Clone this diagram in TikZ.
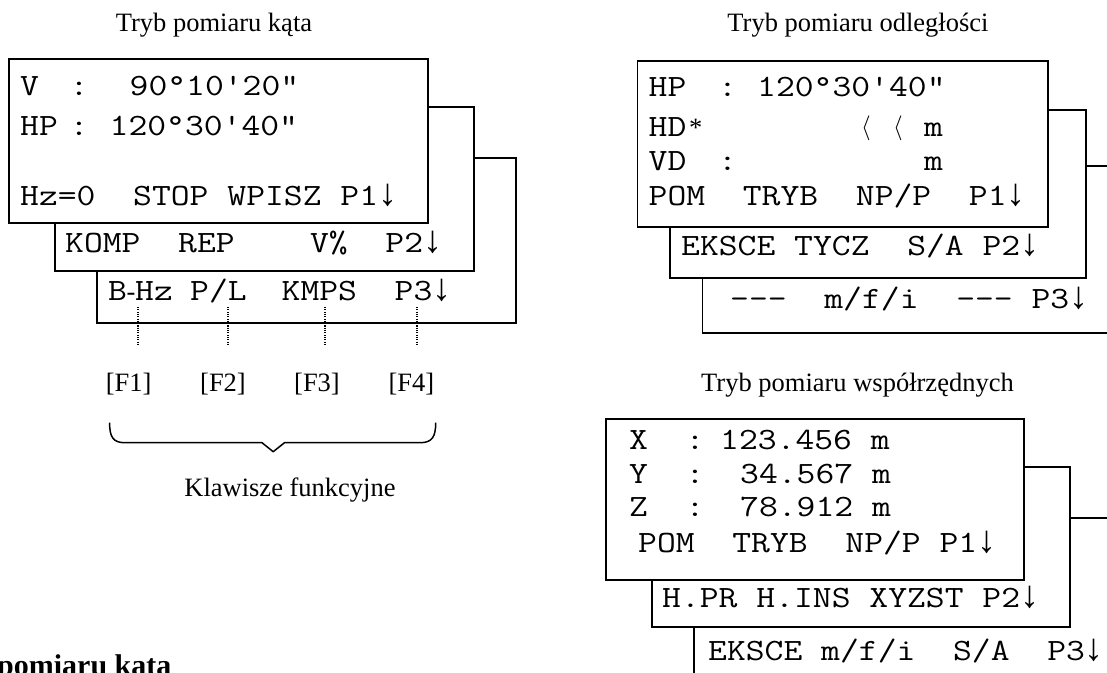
\documentclass[tikz,border=0pt]{standalone}
\usepackage{fontspec}
\setmainfont{Liberation Serif}
\newfontfamily\lcdfont[FakeStretch=1.18]{Latin Modern Mono}
\newcommand\dn{{\rmfamily\fontsize{38}{38}\selectfont ↓}}
\begin{document}
\begin{tikzpicture}[x=1pt,y=-1pt,
  lcd/.style={font=\lcdfont\fontsize{31}{31}\selectfont, anchor=base west, inner sep=0pt},
  col/.style={font=\lcdfont\fontsize{31}{31}\selectfont, anchor=base, inner sep=0pt},
  ttl/.style={font=\fontsize{26.5}{26.5}\selectfont, anchor=base, inner sep=0pt},
  ser/.style={font=\fontsize{26.5}{26.5}\selectfont, anchor=base west, inner sep=0pt},
  ang/.style={font=\fontsize{36}{36}\selectfont, anchor=base west, inner sep=0pt},
  scr/.style={draw=black, line width=1.8pt, fill=white},
  lead/.style={line width=1.1pt, dash pattern=on 1.1pt off 1.2pt},
  brace/.style={line width=1.5pt, line join=round}]
\useasboundingbox (0,0) rectangle (1107,672);
\clip (0,0) rectangle (1107,672);

% ---------- left panel: angle mode ----------
\node[ttl] (t1) at (214,31.7) {Tryb pomiaru kąta};
\draw[scr] (97,158.3) rectangle (516,322.7);
\draw[scr] (55,106.7) rectangle (474,270.7);
\draw[scr] (9.3,59.3) rectangle (427.7,222.7);
\node[lcd] (a1l) at (20,95) {V};
\node[col] (a1c) at (79,95) {:};
\node[lcd] (a1v) at (129.5,95) {90°10'20"};
\node[lcd] (a2l) at (20,135) {HP};
\node[col] (a2c) at (79,135) {:};
\node[lcd] (a2v) at (109.5,135) {120°30'40"};
\node[lcd] (a4) at (20,205) {Hz=0~~STOP~WPISZ~P1\dn};
\node[lcd] (b1) at (65,252) {KOMP~~REP~~~~V\%~~P2\dn};
\node[lcd] (c1) at (108,300) {B};
\node[ser] (c2) at (126.5,300) {-};
\node[lcd] (c3) at (135,300) {Hz};
\node[lcd] (c4) at (190,300) {P/L};
\node[lcd] (c5) at (281.5,300) {KMPS~~P3\dn};

\coordinate (k1a) at (138,307); \coordinate (k1b) at (138,344);
\coordinate (k2a) at (228,307); \coordinate (k2b) at (228,344);
\coordinate (k3a) at (325,307); \coordinate (k3b) at (325,344);
\coordinate (k4a) at (417,307); \coordinate (k4b) at (417,344);
\draw[lead] (k1a) -- (k1b);
\draw[lead] (k2a) -- (k2b);
\draw[lead] (k3a) -- (k3b);
\draw[lead] (k4a) -- (k4b);

\node[ttl] (f1) at (128.6,391.7) {[F1]};
\node[ttl] (f2) at (223,391.7) {[F2]};
\node[ttl] (f3) at (317,391.7) {[F3]};
\node[ttl] (f4) at (411.4,391.7) {[F4]};

\draw[brace] (109.6,422.7) .. controls (109.6,437) and (113,442.7) .. (125,442.7)
  -- (262,442.7) -- (273.2,451.7) -- (284.5,442.7) -- (420,442.7)
  .. controls (432,442.7) and (435.7,437) .. (435.7,422.7);
\node[ttl] (kf) at (290,496.7) {Klawisze funkcyjne};

\node[anchor=base west, inner sep=0pt, font=\bfseries\fontsize{30}{30}\selectfont] (hd) at (-3,675) {pomiaru kąta};

% ---------- right top: distance mode ----------
\node[ttl] (t2) at (858,31) {Tryb pomiaru odległości};
\draw[scr] (702.4,165.7) rectangle (1140,333.3);
\draw[scr] (670,110) rectangle (1086,277.7);
\draw[scr] (637.5,60.7) rectangle (1048,226.7);
\node[lcd] (d1l) at (648.5,96.7) {HP};
\node[col] (d1c) at (727.5,96.7) {:};
\node[lcd] (d1v) at (757,96.7) {120°30'40"};
\node[lcd] (d2l) at (648.5,136.7) {HD};
\node[ser] (d2s) at (689,136.7) {*};
\node[ang] (d2a) at (861,134.5) {$\langle$};
\node[ang] (d2b) at (893,134.5) {$\langle$};
\node[lcd] (d2m) at (924,136.7) {m};
\node[lcd] (d3l) at (648.5,170) {VD};
\node[col] (d3c) at (727.5,170) {:};
\node[lcd] (d3m) at (924,170) {m};
\node[lcd] (d4) at (648.5,205) {POM~~TRYB~~NP/P~~P1\dn};
\node[lcd] (e1) at (681,255) {EKSCE~TYCZ~~S/A~P2\dn};
\node[lcd] (g1) at (730,308) {---~~m/f/i~~---~P3\dn};

% ---------- right bottom: coordinate mode ----------
\node[ttl] (t3) at (857.5,391.7) {Tryb pomiaru współrzędnych};
\draw[scr] (694.3,518.3) rectangle (1140,700);
\draw[scr] (651.7,466.7) rectangle (1070,626.7);
\draw[scr] (605.7,419) rectangle (1024,580);
\node[lcd] (h1l) at (629,449) {X};
\node[col] (h1c) at (695,449) {:};
\node[lcd] (h1v) at (720,449) {123.456~m};
\node[lcd] (h2l) at (629,483.3) {Y};
\node[col] (h2c) at (695,483.3) {:};
\node[lcd] (h2v) at (740,483.3) {34.567~m};
\node[lcd] (h3l) at (629,516.7) {Z};
\node[col] (h3c) at (695,516.7) {:};
\node[lcd] (h3v) at (740,516.7) {78.912~m};
\node[lcd] (h4) at (638,552) {POM~~TRYB~~NP/P~P1\dn};
\node[lcd] (i1) at (662,607) {H.PR~H.INS~XYZST~P2\dn};
\node[lcd] (j1) at (708,660) {EKSCE~m/f/i~~S/A~~P3\dn};
\end{tikzpicture}
\end{document}
